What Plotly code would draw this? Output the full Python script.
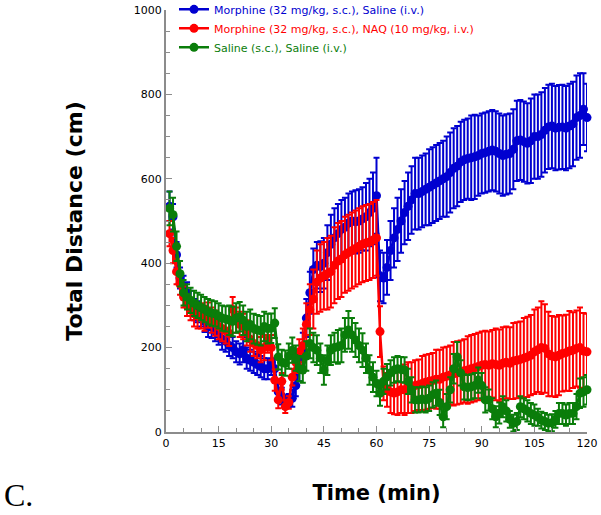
import plotly.graph_objects as go

minutes = list(range(1, 121))

morphine_saline = [
    535, 510, 420, 365, 345, 330, 310, 290, 285, 275,
    262, 250, 248, 240, 232, 220, 215, 205, 200, 190,
    185, 195, 175, 170, 165, 160, 155, 150, 150, 165,
    150, 95, 85, 70, 75, 80, 110, 150, 195, 270,
    330, 385, 395, 392, 400, 425, 445, 460, 470, 480,
    485, 495, 500, 498, 500, 505, 510, 520, 530, 560,
    370, 365, 390, 430, 460, 480, 500, 520, 535, 550,
    565, 565, 570, 575, 580, 585, 590, 595, 600, 605,
    615, 625, 630, 640, 645, 648, 650, 652, 655, 660,
    662, 665, 668, 665, 660, 655, 658, 660, 670, 690,
    692, 688, 684, 690, 700, 700, 705, 715, 723, 725,
    720, 722, 723, 720, 725, 730, 745, 750, 765, 745,
]
morphine_saline_err = [
    35, 30, 30, 25, 25, 25, 25, 25, 25, 25,
    25, 25, 25, 25, 25, 25, 25, 25, 25, 25,
    25, 30, 25, 25, 25, 25, 25, 25, 25, 30,
    25, 20, 20, 15, 15, 20, 25, 30, 40, 45,
    50, 50, 55, 60, 60, 65, 70, 70, 70, 70,
    70, 70, 70, 75, 75, 75, 80, 80, 85, 90,
    60, 60, 65, 70, 70, 75, 75, 75, 80, 80,
    85, 85, 85, 85, 90, 90, 90, 90, 90, 95,
    95, 95, 95, 95, 95, 95, 100, 100, 95, 95,
    95, 95, 95, 95, 95, 95, 95, 95, 95, 95,
    95, 95, 95, 100, 100, 100, 100, 100, 100, 100,
    100, 100, 100, 100, 100, 100, 100, 100, 85, 80,
]

morphine_naq = [
    470, 430, 380, 350, 320, 300, 290, 280, 275, 275,
    270, 277, 265, 258, 250, 245, 240, 234, 290, 265,
    255, 250, 235, 220, 210, 205, 195, 200, 218, 200,
    123, 76, 120, 60, 70, 130, 165, 190, 205, 255,
    290, 315, 355, 365, 370, 375, 380, 395, 405, 410,
    420, 425, 430, 435, 440, 445, 448, 450, 455, 460,
    238, 115, 100, 95, 92, 95, 100, 100, 105, 105,
    110, 112, 115, 118, 120, 122, 125, 125, 130, 132,
    135, 138, 140, 142, 145, 147, 150, 152, 155, 158,
    160, 158, 162, 160, 158, 163, 165, 163, 168, 170,
    172, 175, 178, 182, 190, 195, 200, 198, 185, 180,
    178, 182, 186, 188, 192, 194, 198, 200, 192, 190,
]
morphine_naq_err = [
    30, 30, 30, 25, 25, 25, 25, 30, 30, 30,
    30, 30, 30, 30, 30, 30, 30, 30, 30, 30,
    30, 30, 30, 30, 30, 30, 30, 30, 30, 30,
    25, 20, 20, 15, 15, 20, 25, 30, 40, 50,
    60, 70, 75, 80, 80, 85, 85, 90, 90, 90,
    90, 90, 90, 90, 90, 90, 90, 90, 90, 90,
    60, 40, 40, 50, 50, 55, 55, 60, 60, 60,
    60, 60, 65, 65, 65, 65, 70, 70, 70, 70,
    70, 75, 75, 75, 75, 80, 80, 80, 80, 80,
    80, 80, 80, 85, 85, 85, 85, 85, 90, 90,
    90, 95, 95, 95, 100, 100, 110, 105, 100, 95,
    95, 95, 90, 90, 95, 90, 90, 95, 90, 90,
]

saline_saline = [
    530, 515, 440, 375, 330, 320, 312, 305, 300, 295,
    290, 285, 282, 280, 275, 270, 268, 265, 262, 270,
    273, 265, 250, 255, 245, 242, 240, 250, 245, 246,
    258, 178, 165, 163, 180, 194, 175, 150, 147, 180,
    210, 200, 194, 175, 147, 170, 194, 200, 202, 205,
    230, 242, 230, 218, 205, 194, 175, 147, 130, 115,
    92, 120, 131, 140, 147, 150, 148, 147, 120, 100,
    76, 76, 78, 76, 80, 88, 92, 70, 36, 60,
    100, 150, 178, 140, 107, 105, 107, 110, 123, 110,
    76, 76, 55, 36, 45, 60, 50, 30, 21, 25,
    60, 55, 50, 44, 40, 35, 28, 25, 21, 22,
    30, 44, 44, 40, 44, 44, 60, 92, 95, 100,
]
saline_saline_err = [
    40, 40, 35, 30, 30, 30, 30, 30, 30, 30,
    30, 30, 30, 30, 30, 30, 30, 35, 35, 35,
    35, 35, 35, 35, 35, 35, 35, 35, 35, 35,
    35, 30, 30, 30, 30, 30, 30, 30, 30, 35,
    35, 35, 35, 35, 35, 35, 35, 35, 40, 40,
    40, 45, 40, 40, 40, 40, 35, 35, 35, 30,
    30, 30, 30, 30, 30, 30, 30, 30, 30, 30,
    30, 30, 30, 30, 30, 30, 30, 30, 25, 30,
    30, 35, 35, 30, 30, 30, 30, 30, 30, 30,
    30, 25, 25, 25, 25, 25, 25, 20, 20, 20,
    25, 25, 25, 25, 25, 20, 20, 20, 20, 20,
    20, 25, 25, 25, 25, 25, 30, 35, 35, 35,
]

series = [
    ("Morphine (32 mg/kg, s.c.), Saline (i.v.)", morphine_saline, morphine_saline_err, "#0000D0"),
    ("Morphine (32 mg/kg, s.c.), NAQ (10 mg/kg, i.v.)", morphine_naq, morphine_naq_err, "#FF0000"),
    ("Saline (s.c.), Saline (i.v.)", saline_saline, saline_saline_err, "#0A7D0A"),
]

fig = go.Figure()
for name, ys, errs, col in series:
    fig.add_trace(
        go.Scatter(
            x=minutes,
            y=ys,
            name="<span style='color:%s'>%s</span>" % (col, name),
            mode="lines+markers",
            line=dict(color=col, width=2.5),
            marker=dict(color=col, size=9),
            error_y=dict(type="data", array=errs, visible=True,
                         color=col, thickness=2, width=3),
            cliponaxis=False,
        )
    )

axis_common = dict(
    showline=True,
    linecolor="#8c8c8c",
    linewidth=2,
    showgrid=False,
    zeroline=False,
    automargin=False,
    ticks="inside",
    tickcolor="#8c8c8c",
    ticklen=6,
    tickwidth=1,
    tickfont=dict(family="DejaVu Sans", size=11, color="black"),
)

fig.update_layout(
    width=601,
    height=515,
    margin=dict(l=166, r=14, t=10, b=83, autoexpand=False),
    paper_bgcolor="white",
    plot_bgcolor="white",
    showlegend=True,
    legend=dict(
        x=0.019, y=1.036, xanchor="left", yanchor="top",
        bgcolor="rgba(0,0,0,0)",
        font=dict(family="DejaVu Sans", size=11),
        tracegroupgap=0,
    ),
    xaxis=dict(
        range=[0, 120],
        tickvals=[0, 15, 30, 45, 60, 75, 90, 105, 120],
        minor=dict(dtick=5, ticks="inside", ticklen=4, tickcolor="#8c8c8c"),
        title=dict(text="<b>Time (min)</b>",
                   font=dict(family="DejaVu Sans", size=21, color="black"),
                   standoff=36),
        **axis_common,
    ),
    yaxis=dict(
        range=[0, 1000],
        tickvals=[0, 200, 400, 600, 800, 1000],
        minor=dict(dtick=50, ticks="inside", ticklen=4, tickcolor="#8c8c8c"),
        title=dict(text="<b>Total Distance (cm)</b>",
                   font=dict(family="DejaVu Sans", size=22, color="black"),
                   standoff=45),
        **axis_common,
    ),
)

fig.add_annotation(
    text="C.", xref="paper", yref="paper", x=-0.39, y=-0.15,
    xanchor="left", yanchor="middle", showarrow=False,
    font=dict(family="Liberation Serif", size=32, color="black"),
)

fig.write_html(
    "out.html",
    config={"displayModeBar": False},
    post_script="document.body.style.margin='0';document.body.style.overflow='hidden';",
)
